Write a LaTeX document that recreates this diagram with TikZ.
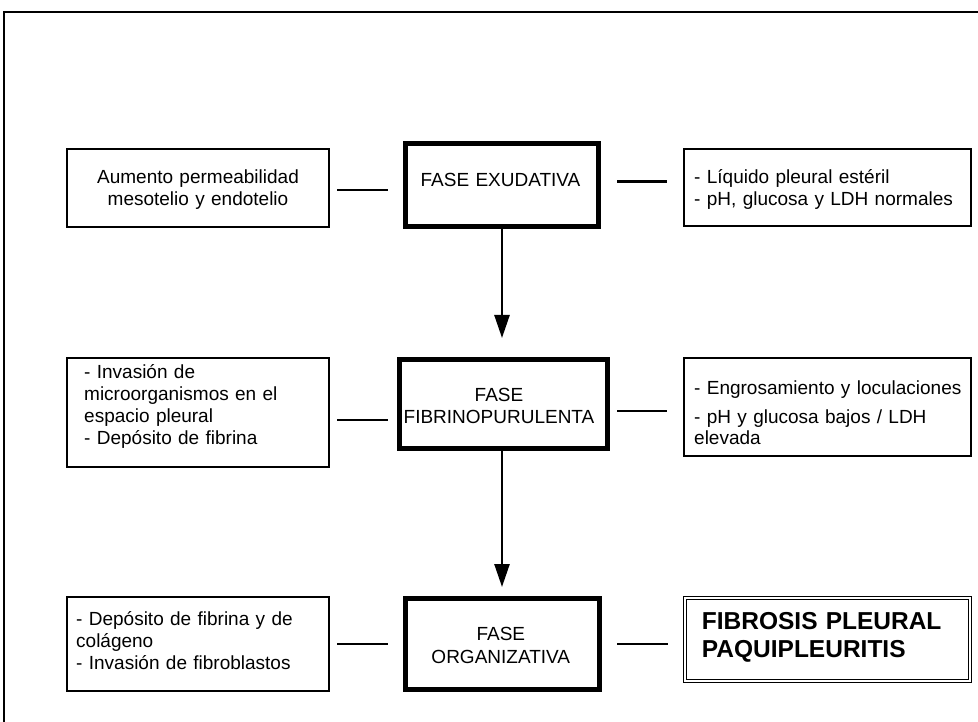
\documentclass[tikz,border=0pt]{standalone}
\usepackage{fontspec}
\setmainfont{Liberation Sans}
\usetikzlibrary{arrows.meta}
\begin{document}
\begin{tikzpicture}[x=1pt,y=-1pt,
  thinbox/.style={draw, line width=2pt, inner sep=0pt},
  thickbox/.style={draw, line width=5pt, inner sep=0pt},
  dblbox/.style={draw, double, line width=0.9pt, double distance=2.2pt, inner sep=0pt},
  txt/.style={inner sep=0pt, font=\fontsize{19pt}{22pt}\selectfont},
  bigtxt/.style={inner sep=0pt, font=\fontsize{24.5pt}{28pt}\selectfont\bfseries},
  link/.style={line width=2.5pt},
  flow/.style={line width=2.5pt, -{Triangle[width=15pt,length=23pt]}},
  frameline/.style={line width=2pt}
]
\useasboundingbox (0,0) rectangle (978,722);

% frame
\coordinate (f1) at (4.3,722);
\coordinate (f2) at (4.3,12);
\coordinate (f3) at (978,12);
\draw[frameline] (f1) -- (f2) -- (f3);

% boxes
\node[thinbox,  minimum width=262pt,   minimum height=78pt]   (A1) at (198,188.3) {};
\node[thickbox, minimum width=192.7pt, minimum height=83pt]   (C1) at (502.2,185) {};
\node[thinbox,  minimum width=286.4pt, minimum height=77pt]   (B1) at (827.5,187.8) {};

\node[thinbox,  minimum width=262pt,   minimum height=109.6pt] (A2) at (198,412.5) {};
\node[thickbox, minimum width=208pt,   minimum height=89pt]    (C2) at (503.5,404) {};
\node[thinbox,  minimum width=286.4pt, minimum height=98.6pt]  (B2) at (827.5,407) {};

\node[thinbox,  minimum width=262pt,   minimum height=93.7pt] (A3) at (198,643.9) {};
\node[thickbox, minimum width=193.4pt, minimum height=90.7pt] (C3) at (502.5,643.9) {};
\node[dblbox,   minimum width=284.4pt, minimum height=83.3pt] (B3) at (827.5,639.7) {};

% texts
\node[txt, anchor=base, text width=250pt, align=center] (tA1) at (198,184)
  {Aumento permeabilidad\\mesotelio y endotelio};
\node[txt, anchor=base, text width=190pt, align=center] (tC1) at (500.5,187)
  {FASE EXUDATIVA};
\node[txt, anchor=base west, text width=270pt, align=left] (tB1) at (694,184)
  {- Líquido pleural estéril\\- pH, glucosa y LDH normales};

\node[txt, anchor=base west, text width=240pt, align=left] (tA2) at (84,378)
  {- Invasión de\\microorganismos en el\\espacio pleural\\- Depósito de fibrina};
\node[txt, anchor=base, text width=205pt, align=center] (tC2) at (499,401)
  {FASE\\FIBRINOPURULENTA};
\node[txt, anchor=base west, text width=270pt, align=left] (tB2) at (694,394)
  {- Engrosamiento y loculaciones\\[7pt]- pH y glucosa bajos / LDH\\elevada};

\node[txt, anchor=base west, text width=245pt, align=left] (tA3) at (76,625)
  {- Depósito de fibrina y de\\colágeno\\- Invasión de fibroblastos};
\node[txt, anchor=base, text width=190pt, align=center] (tC3) at (500.8,640)
  {FASE\\[1pt]ORGANIZATIVA};
\node[bigtxt, anchor=base west, text width=265pt, align=left] (tB3) at (701.7,629)
  {FIBROSIS PLEURAL\\PAQUIPLEURITIS};

% side links
\coordinate (l1a) at (337.3,190);   \coordinate (l1b) at (388.3,190);
\coordinate (r1a) at (617.3,181.7); \coordinate (r1b) at (666.7,181.7);
\coordinate (l2a) at (337.3,420);   \coordinate (l2b) at (388.3,420);
\coordinate (r2a) at (617.3,411);   \coordinate (r2b) at (666.7,411);
\coordinate (l3a) at (337.3,644);   \coordinate (l3b) at (388.3,644);
\coordinate (r3a) at (617.3,644);   \coordinate (r3b) at (667.5,644);
\draw[link] (l1a) -- (l1b);
\draw[link] (r1a) -- (r1b);
\draw[link] (l2a) -- (l2b);
\draw[link] (r2a) -- (r2b);
\draw[link] (l3a) -- (l3b);
\draw[link] (r3a) -- (r3b);

% flow arrows
\coordinate (t1) at (502,338);
\coordinate (t2) at (502,587);
\draw[flow] (t1 |- C1.south) -- (t1);
\draw[flow] (t2 |- C2.south) -- (t2);
\end{tikzpicture}
\end{document}
